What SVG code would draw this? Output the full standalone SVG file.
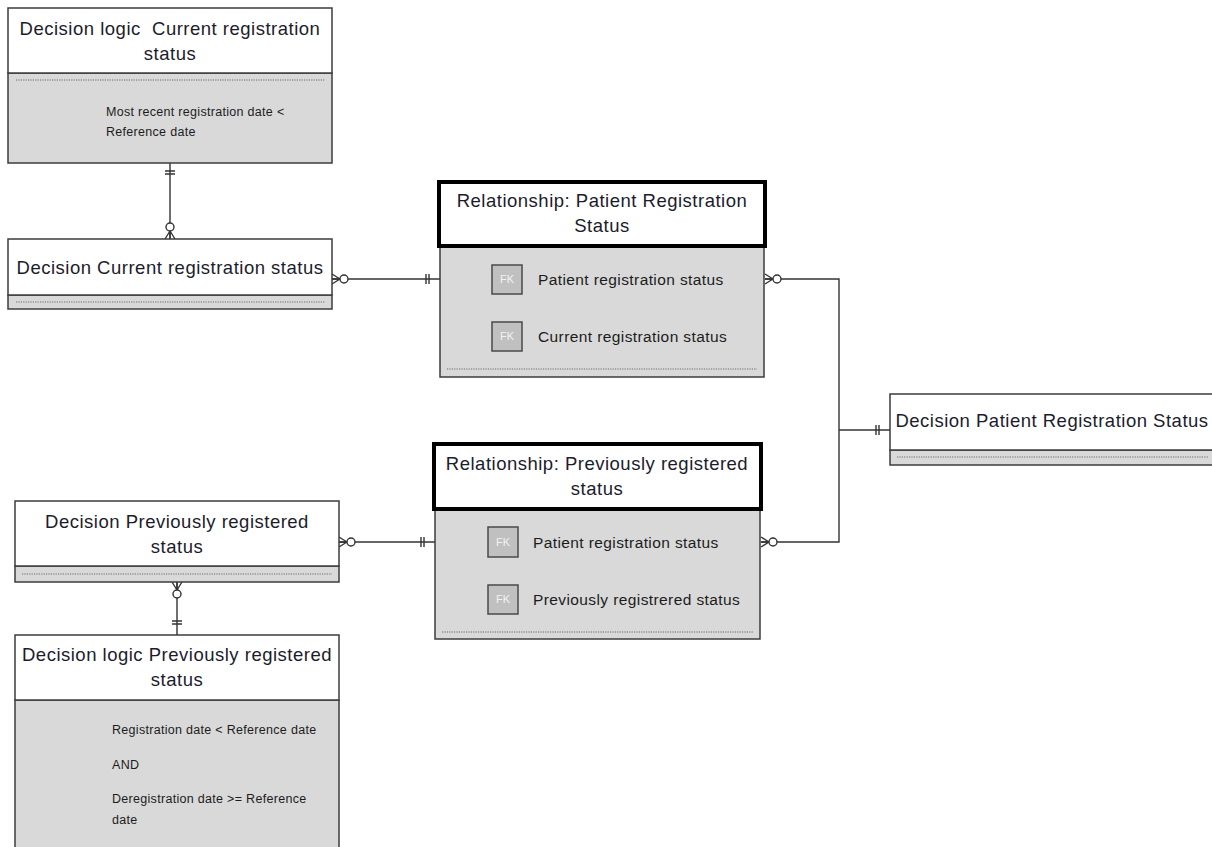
<svg xmlns="http://www.w3.org/2000/svg" width="1212" height="847" viewBox="0 0 1212 847">
  <style>
    .hdr { fill: #ffffff; stroke: #3c3c3c; stroke-width: 1.5; }
    .hdr-bold { fill: #ffffff; stroke: #000000; stroke-width: 4; }
    .body { fill: #d9d9d9; stroke: #3c3c3c; stroke-width: 1.5; }
    .dots { stroke: #6a6a6a; stroke-width: 1; stroke-dasharray: 1.2 1.2; }
    .title { font-family: "Liberation Sans", Arial, sans-serif; font-size: 18.5px; letter-spacing: 0.5px; fill: #1c1c2c; text-anchor: middle; white-space: pre; }
    .attr { font-family: "Liberation Sans", Arial, sans-serif; font-size: 15.5px; letter-spacing: 0.4px; fill: #1c1c1c; }
    .note { font-family: "Liberation Sans", Arial, sans-serif; font-size: 12.5px; letter-spacing: 0.3px; fill: #1c1c1c; }
    .fk { fill: #c0c0c0; stroke: #4a4a4a; stroke-width: 1.5; }
    .fktext { font-family: "Liberation Sans", Arial, sans-serif; font-size: 11px; fill: #f2f2f2; text-anchor: middle; }
    .wire { fill: none; stroke: #333333; stroke-width: 1.4; }
    .circ { fill: #ffffff; stroke: #333333; stroke-width: 1.4; }
  </style>
  <defs>
    <!-- zero-or-many end: entity edge at origin, line leaving along +x -->
    <g id="zero-many">
      <path class="wire" d="M0,-5 L8,0 M0,5 L8,0 M0,0 L8,0"/>
      <circle class="circ" cx="12" cy="0" r="4"/>
    </g>
    <!-- exactly-one end: entity edge at origin, line leaving along +x -->
    <g id="one-one">
      <path class="wire" d="M11,-5 L11,5 M14,-5 L14,5"/>
    </g>
  </defs>

  <rect width="1212" height="847" fill="#ffffff"/>

  <!-- Connectors -->
  <g id="connectors">
    <path class="wire" d="M170,163 L170,239"/>
    <path class="wire" d="M332,279 L440,279"/>
    <path class="wire" d="M765,279 L839,279 L839,542 L761,542"/>
    <path class="wire" d="M839,430 L890,430"/>
    <path class="wire" d="M339,542 L435,542"/>
    <path class="wire" d="M177,582 L177,635"/>

    <use href="#one-one" transform="translate(170,163) rotate(90) translate(-3,0)"/>
    <use href="#zero-many" transform="translate(170,239) rotate(-90)"/>

    <use href="#zero-many" transform="translate(332,279)"/>
    <use href="#one-one" transform="translate(440,279) rotate(180)"/>

    <use href="#zero-many" transform="translate(765,279)"/>
    <use href="#zero-many" transform="translate(761,542)"/>
    <use href="#one-one" transform="translate(890,430) rotate(180)"/>

    <use href="#zero-many" transform="translate(339,542)"/>
    <use href="#one-one" transform="translate(435,542) rotate(180)"/>

    <use href="#zero-many" transform="translate(177,582) rotate(90)"/>
    <use href="#one-one" transform="translate(177,635) rotate(-90)"/>
  </g>

  <!-- Decision logic: current registration status -->
  <g id="logic-current">
    <rect class="body" x="8" y="73" width="324" height="90"/>
    <rect class="hdr" x="8" y="8" width="324" height="65"/>
    <line class="dots" x1="16" y1="80" x2="325" y2="80"/>
    <text class="title" x="170" y="35" xml:space="preserve">Decision logic  Current registration</text>
    <text class="title" x="170" y="60">status</text>
    <text class="note" x="106" y="116">Most recent registration date &lt;</text>
    <text class="note" x="106" y="136">Reference date</text>
  </g>

  <!-- Decision: current registration status -->
  <g id="decision-current">
    <rect class="body" x="8" y="295" width="324" height="14"/>
    <rect class="hdr" x="8" y="239" width="324" height="56"/>
    <line class="dots" x1="16" y1="302" x2="325" y2="302"/>
    <text class="title" x="170" y="274">Decision Current registration status</text>
  </g>

  <!-- Relationship: patient registration status -->
  <g id="rel-patient">
    <rect class="body" x="440" y="246" width="324" height="131"/>
    <rect class="hdr-bold" x="439" y="182" width="326" height="64"/>
    <text class="title" x="602" y="207">Relationship: Patient Registration</text>
    <text class="title" x="602" y="232">Status</text>
    <rect class="fk" x="492" y="265" width="30" height="29"/>
    <text class="fktext" x="507" y="283">FK</text>
    <text class="attr" x="538" y="285">Patient registration status</text>
    <rect class="fk" x="492" y="322" width="30" height="29"/>
    <text class="fktext" x="507" y="340">FK</text>
    <text class="attr" x="538" y="342">Current registration status</text>
    <line class="dots" x1="447" y1="369" x2="757" y2="369"/>
  </g>

  <!-- Decision: patient registration status -->
  <g id="decision-patient">
    <rect class="body" x="890" y="450" width="330" height="15"/>
    <rect class="hdr" x="890" y="394" width="330" height="56"/>
    <line class="dots" x1="897" y1="457" x2="1208" y2="457"/>
    <text class="title" x="1052" y="427">Decision Patient Registration Status</text>
  </g>

  <!-- Relationship: previously registered status -->
  <g id="rel-previous">
    <rect class="body" x="435" y="509" width="325" height="130"/>
    <rect class="hdr-bold" x="434" y="444" width="327" height="65"/>
    <text class="title" x="597" y="470">Relationship: Previously registered</text>
    <text class="title" x="597" y="495">status</text>
    <rect class="fk" x="488" y="527" width="30" height="30"/>
    <text class="fktext" x="503" y="546">FK</text>
    <text class="attr" x="533" y="548">Patient registration status</text>
    <rect class="fk" x="488" y="585" width="30" height="29"/>
    <text class="fktext" x="503" y="603">FK</text>
    <text class="attr" x="533" y="605">Previously registrered status</text>
    <line class="dots" x1="442" y1="632" x2="753" y2="632"/>
  </g>

  <!-- Decision: previously registered status -->
  <g id="decision-previous">
    <rect class="body" x="15" y="566" width="324" height="16"/>
    <rect class="hdr" x="15" y="501" width="324" height="65"/>
    <line class="dots" x1="22" y1="574" x2="332" y2="574"/>
    <text class="title" x="177" y="528">Decision Previously registered</text>
    <text class="title" x="177" y="553">status</text>
  </g>

  <!-- Decision logic: previously registered status -->
  <g id="logic-previous">
    <rect class="body" x="15" y="700" width="324" height="160"/>
    <rect class="hdr" x="15" y="635" width="324" height="65"/>
    <text class="title" x="177" y="661">Decision logic Previously registered</text>
    <text class="title" x="177" y="686">status</text>
    <text class="note" x="112" y="734">Registration date &lt; Reference date</text>
    <text class="note" x="112" y="769">AND</text>
    <text class="note" x="112" y="803">Deregistration date &gt;= Reference</text>
    <text class="note" x="112" y="824">date</text>
  </g>
</svg>
